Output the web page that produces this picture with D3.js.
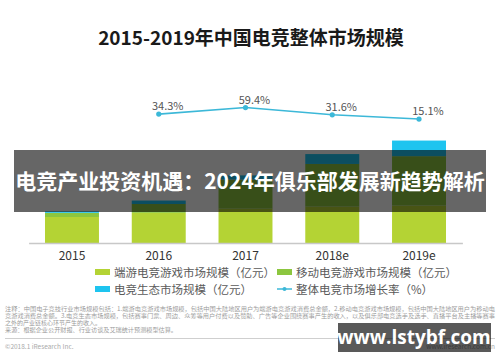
<!DOCTYPE html>
<html lang="zh">
<head>
<meta charset="utf-8">
<title>2015-2019年中国电竞整体市场规模</title>
<script src="https://cdn.jsdelivr.net/npm/d3@7"></script>
<style>
  body { margin: 0; background: #fff; }
  svg { display: block; font-family: "Noto Sans CJK SC", "Noto Sans", sans-serif; }
</style>
</head>
<body>
<script>
// values (亿元 / %)
var years = ["2015", "2016", "2017", "2018e", "2019e"];
var pcGame = [250, 290, 330, 350, 360];      // 端游电竞游戏市场规模
var mobileGame = [40, 85, 280, 410, 475];    // 移动电竞游戏市场规模
var ecoMarket = [14, 33, 40, 95, 150];       // 电竞生态市场规模
var growthYears = ["2016", "2017", "2018e", "2019e"];
var growth = [34.3, 59.4, 31.6, 15.1];       // 整体电竞市场增长率

var seriesNames = ["端游电竞游戏市场规模（亿元）", "移动电竞游戏市场规模（亿元）", "电竞生态市场规模（亿元）"];
var seriesColors = ["#b4d334", "#8cc63f", "#1ec4ef"];
var lineName = "整体电竞市场增长率（%）";
var lineColor = "#3cb8d8";

var W = 500, H = 362;
var svg = d3.select("body").append("svg").attr("width", W).attr("height", H);
svg.append("rect").attr("width", W).attr("height", H).attr("fill", "#fff");

// title
svg.append("text")
    .attr("x", 251).attr("y", 45)
    .attr("text-anchor", "middle")
    .attr("font-size", 19).attr("font-weight", "bold").attr("fill", "#1a1a1a")
    .text("2015-2019年中国电竞整体市场规模");

// scales
var x = d3.scaleBand().domain(years).range([28.6, 462.4]).paddingInner(0.378).paddingOuter(0.189);
var y = d3.scaleLinear().domain([0, 1000]).range([243, 139]);
var yg = d3.scaleLinear().domain([0, 100]).range([123, 97]);

// stacked bars
var table = years.map(function(yr, i) {
    return { year: yr, pc: pcGame[i], mobile: mobileGame[i], eco: ecoMarket[i] };
});
var stack = d3.stack().keys(["pc", "mobile", "eco"])(table);

svg.append("g").selectAll("g")
    .data(stack)
  .enter().append("g")
    .attr("fill", function(d, i) { return seriesColors[i]; })
  .selectAll("rect")
    .data(function(d) { return d; })
  .enter().append("rect")
    .attr("x", function(d) { return x(d.data.year); })
    .attr("width", x.bandwidth())
    .attr("y", function(d) { return y(d[1]); })
    .attr("height", function(d) { return y(d[0]) - y(d[1]); });

// x axis
var xAxis = svg.append("g")
    .attr("transform", "translate(0," + y(0) + ")")
    .call(d3.axisBottom(x).tickSize(0).tickPadding(8));
xAxis.select(".domain").attr("stroke", "#c8c8c8").attr("stroke-width", 1.5);
xAxis.selectAll("text")
    .attr("font-size", 12).attr("fill", "#333")
    .attr("font-family", "'Noto Sans CJK SC', sans-serif");

// growth line
var center = function(yr) { return x(yr) + x.bandwidth() / 2; };
var line = d3.line()
    .x(function(d, i) { return center(growthYears[i]); })
    .y(function(d) { return yg(d); });

svg.append("path")
    .datum(growth)
    .attr("d", line)
    .attr("fill", "none").attr("stroke", lineColor).attr("stroke-width", 1.6);

svg.selectAll(".pt")
    .data(growth)
  .enter().append("circle")
    .attr("cx", function(d, i) { return center(growthYears[i]); })
    .attr("cy", function(d) { return yg(d); })
    .attr("r", 2.6).attr("fill", lineColor);

svg.selectAll(".gl")
    .data(growth)
  .enter().append("text")
    .attr("x", function(d, i) { return center(growthYears[i]) + 9; })
    .attr("y", function(d) { return yg(d) - 4; })
    .attr("text-anchor", "middle")
    .attr("font-size", 11).attr("fill", "#555")
    .text(function(d) { return d.toFixed(1) + "%"; });

// legend
var legendItems = [
    { name: seriesNames[0], color: seriesColors[0], type: "rect", x: 95, y: 272 },
    { name: seriesNames[1], color: seriesColors[1], type: "rect", x: 277, y: 272 },
    { name: seriesNames[2], color: seriesColors[2], type: "rect", x: 95, y: 289 },
    { name: lineName, color: lineColor, type: "line", x: 277, y: 289 }
];
var lg = svg.selectAll(".legend")
    .data(legendItems)
  .enter().append("g")
    .attr("transform", function(d) { return "translate(" + d.x + "," + d.y + ")"; });
lg.filter(function(d) { return d.type == "rect"; })
    .append("rect")
    .attr("x", 0).attr("y", -3).attr("width", 15).attr("height", 6)
    .attr("fill", function(d) { return d.color; });
lg.filter(function(d) { return d.type == "line"; })
    .append("line")
    .attr("x1", 0).attr("x2", 15).attr("y1", 0).attr("y2", 0)
    .attr("stroke", function(d) { return d.color; }).attr("stroke-width", 1.5);
lg.filter(function(d) { return d.type == "line"; })
    .append("circle")
    .attr("cx", 7.5).attr("cy", 0).attr("r", 2)
    .attr("fill", function(d) { return d.color; });
lg.append("text")
    .attr("x", 19).attr("y", 4.5)
    .attr("font-size", 11.5).attr("fill", "#5a5a5a")
    .text(function(d) { return d.name; });

// footnote
var notes = [
    "注释：中国电子竞技行业市场规模包括：1.端游电竞游戏市场规模，包括中国大陆地区用户为端游电竞游戏消费总金额，2.移动电竞游戏市场规模，包括中国大陆地区用户为移动电",
    "竞游戏消费总金额。3.电竞生态市场规模，包括赛事门票、周边、众筹等用户付费以及赞助、广告等企业围绕赛事产生的收入，以及俱乐部电竞选手及选手、直播平台及主播等赛事",
    "之外的产业链核心环节产生的收入。",
    "来源：根据企业公开财报、行业访谈及艾瑞统计预测模型估算。"
];
var noteWidths = [490, 490, 96, 172];
svg.selectAll(".note")
    .data(notes)
  .enter().append("text")
    .attr("x", 5)
    .attr("y", function(d, i) { return 311 + i * 7; })
    .attr("font-size", 5.5).attr("fill", "#9a9a9a")
    .attr("textLength", function(d, i) { return noteWidths[i]; })
    .attr("lengthAdjust", "spacingAndGlyphs")
    .text(function(d) { return d; });

svg.append("line")
    .attr("x1", 5).attr("x2", 495).attr("y1", 338.5).attr("y2", 338.5)
    .attr("stroke", "#cfcfcf").attr("stroke-width", 1);
svg.append("text")
    .attr("x", 5).attr("y", 349)
    .attr("font-size", 6.5).attr("fill", "#aaa")
    .text("©2018.1 iResearch Inc.");
svg.append("text")
    .attr("x", 495).attr("y", 349).attr("text-anchor", "end")
    .attr("font-size", 6.5).attr("fill", "#aaa")
    .text("www.iresearch.com.cn");

// banner overlay
svg.append("rect")
    .attr("x", 14).attr("y", 150).attr("width", 472).attr("height", 62)
    .attr("fill", "#000").attr("fill-opacity", 0.6);
svg.append("text")
    .attr("x", 250).attr("y", 188.5)
    .attr("text-anchor", "middle")
    .attr("font-size", 21).attr("font-weight", "bold").attr("fill", "#fff")
    .text("电竞产业投资机遇：2024年俱乐部发展新趋势解析");

// watermark
svg.append("rect")
    .attr("x", 338).attr("y", 323).attr("width", 153).attr("height", 29)
    .attr("fill", "#000").attr("fill-opacity", 0.65);
svg.append("text")
    .attr("x", 414).attr("y", 344)
    .attr("text-anchor", "middle")
    .attr("font-size", 19).attr("font-weight", "bold").attr("fill", "#fff")
    .attr("font-family", "'Open Sans', 'DejaVu Sans', sans-serif")
    .text("www.lstybf.com");
</script>
</body>
</html>
